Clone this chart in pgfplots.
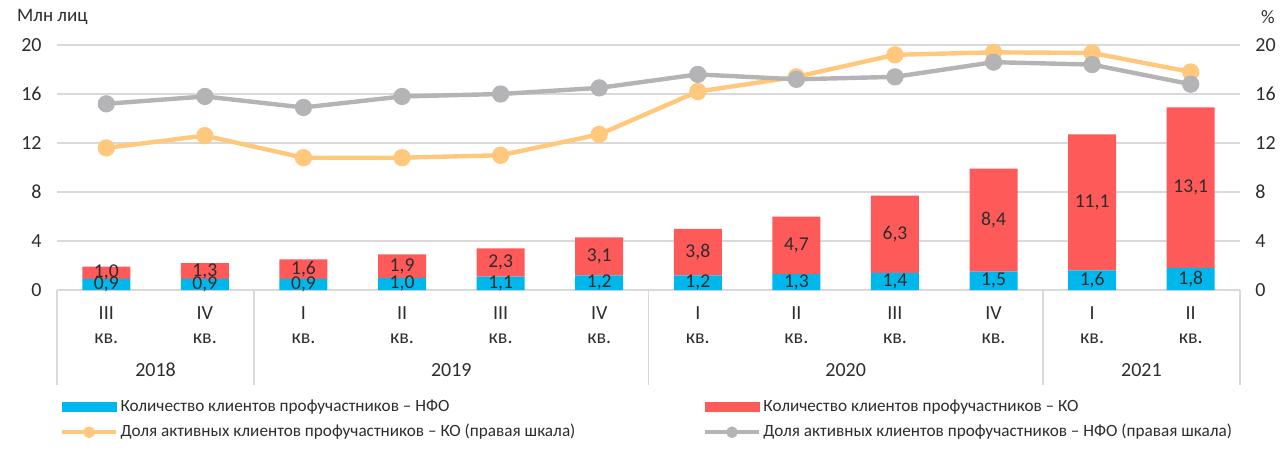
\documentclass[border=0pt]{standalone}
\usepackage{pgfplots}
\pgfplotsset{compat=1.18}
\usepackage{fontspec}
\setmainfont{Carlito}

\definecolor{nfo}{RGB}{0,183,235}
\definecolor{ko}{RGB}{255,90,90}
\definecolor{lko}{RGB}{255,200,125}
\definecolor{lnfo}{RGB}{180,180,183}
\definecolor{gridc}{RGB}{217,217,217}
\definecolor{txt}{RGB}{45,45,45}

% Mln persons: NFO, KO
\pgfplotstableread{
x nfo ko
0 0.9 1.0
1 0.9 1.3
2 0.9 1.6
3 1.0 1.9
4 1.1 2.3
5 1.2 3.1
6 1.2 3.8
7 1.3 4.7
8 1.4 6.3
9 1.5 8.4
10 1.6 11.1
11 1.8 13.1
}\clients

% share of active clients, %
\pgfplotstableread{
x ko nfo
0 11.6 15.2
1 12.6 15.8
2 10.8 14.9
3 10.8 15.8
4 11.0 16.0
5 12.7 16.5
6 16.2 17.6
7 17.4 17.2
8 19.2 17.4
9 19.4 18.6
10 19.35 18.4
11 17.8 16.8
}\shares

% label positions (middle of each segment)
\pgfplotstableread{
x y v
0 0.45 0.9
1 0.45 0.9
2 0.45 0.9
3 0.50 1.0
4 0.55 1.1
5 0.60 1.2
6 0.60 1.2
7 0.65 1.3
8 0.70 1.4
9 0.75 1.5
10 0.80 1.6
11 0.90 1.8
0 1.40 1.0
1 1.55 1.3
2 1.70 1.6
3 1.95 1.9
4 2.25 2.3
5 2.75 3.1
6 3.10 3.8
7 3.65 4.7
8 4.55 6.3
9 5.70 8.4
10 7.15 11.1
11 8.35 13.1
}\labels

\pgfplotsset{
  base/.style={
    at={(28.5pt,80.5pt)}, anchor=south west,
    scale only axis, width=591.5pt, height=122.5pt,
    xmin=-0.5, xmax=11.5, ymin=0, ymax=20,
    ytick={0,4,...,20},
    axis line style={draw=none},
    major tick length=0pt,
    clip=false,
    /pgf/number format/assume math mode=true,
    tick label style={font=\fontsize{10}{12}\selectfont, text=txt},
    legend style={draw=none, fill=none, inner sep=0pt, outer sep=0pt,
      font=\fontsize{8.6}{10}\selectfont, text=txt,
      row sep=4.6pt, cells={anchor=west},
      nodes={inner sep=0pt, text height=6.2pt, text depth=1.8pt}},
  },
  linelegend/.style={legend image code/.code={
    \draw[#1, line width=2.2pt] (0pt,0pt) -- (27pt,0pt);
    \fill[#1] (13.5pt,0pt) circle (2.7pt);
    \path (29pt,0pt);}},
  barlegend/.style={legend image code/.code={
    \fill[#1] (0pt,-2.4pt) rectangle (27pt,2.4pt);
    \path (29pt,0pt);}},
}

\begin{document}
\begin{tikzpicture}
\path[use as bounding box] (0,0) rectangle (642pt,225.5pt);

\begin{axis}[base,
  ybar stacked, bar width=24pt,
  ytick pos=left,
  yticklabel style={anchor=east, inner sep=0pt, xshift=-7.5pt},
  ymajorgrids, grid style={gridc, line width=0.7pt},
  xtick={0,...,11},
  xticklabels={{III\\кв.},{IV\\кв.},{I\\кв.},{II\\кв.},{III\\кв.},{IV\\кв.},
               {I\\кв.},{II\\кв.},{III\\кв.},{IV\\кв.},{I\\кв.},{II\\кв.}},
  xticklabel style={align=center, anchor=north, inner sep=0pt, yshift=-8pt},
  legend style={at={(0.0025,-0.445)}, anchor=north west},
]
\addplot[fill=nfo, draw=none, forget plot] table[x=x, y=nfo] {\clients};
\addplot[fill=ko, draw=none, forget plot] table[x=x, y=ko] {\clients};
\addlegendimage{barlegend=nfo}
\addlegendentry{Количество клиентов профучастников – НФО}
\addlegendimage{linelegend=lko}
\addlegendentry{Доля активных клиентов профучастников – КО (правая шкала)}

\draw[gridc, line width=0.8pt] (axis cs:-0.5,0) -- (axis cs:11.5,0);
\pgfplotsinvokeforeach{-0.5,1.5,5.5,9.5,11.5}{
  \draw[gridc, line width=0.8pt] (axis cs:#1,0) -- ++(0pt,-47.5pt);
}
\node[font=\fontsize{10}{12}\selectfont, text=txt] at ([yshift=-40pt]axis cs:0.5,0) {2018};
\node[font=\fontsize{10}{12}\selectfont, text=txt] at ([yshift=-40pt]axis cs:3.5,0) {2019};
\node[font=\fontsize{10}{12}\selectfont, text=txt] at ([yshift=-40pt]axis cs:7.5,0) {2020};
\node[font=\fontsize{10}{12}\selectfont, text=txt] at ([yshift=-40pt]axis cs:10.5,0) {2021};
\end{axis}

\begin{axis}[base,
  ytick pos=right,
  yticklabel style={anchor=west, inner sep=0pt, xshift=7.5pt},
  xtick=\empty,
  legend style={at={(0.5459,-0.445)}, anchor=north west},
]
\addplot[lko, line width=2.2pt, mark=*, mark size=3.2pt, forget plot]
  table[x=x, y=ko] {\shares};
\addplot[lnfo, line width=2.2pt, mark=*, mark size=3.2pt, forget plot]
  table[x=x, y=nfo] {\shares};
\addlegendimage{barlegend=ko}
\addlegendentry{Количество клиентов профучастников – КО}
\addlegendimage{linelegend=lnfo}
\addlegendentry{Доля активных клиентов профучастников – НФО (правая шкала)}

\addplot[only marks, mark=*, mark size=0pt, mark options={draw=none, fill=none},
  forget plot, point meta=explicit,
  nodes near coords={\pgfmathprintnumber[fixed, fixed zerofill, precision=1, use comma]{\pgfplotspointmeta}},
  every node near coord/.append style={anchor=center, inner sep=0pt,
    font=\fontsize{9.8}{11}\selectfont, text=txt}]
  table[x=x, y=y, meta=v] {\labels};
\end{axis}

\node[anchor=west, font=\fontsize{9.5}{11}\selectfont, text=txt] at (5pt,217pt) {Млн лиц};
\node[anchor=west, font=\fontsize{9.5}{11}\selectfont, text=txt] at (627pt,217pt) {\%};
\end{tikzpicture}
\end{document}
